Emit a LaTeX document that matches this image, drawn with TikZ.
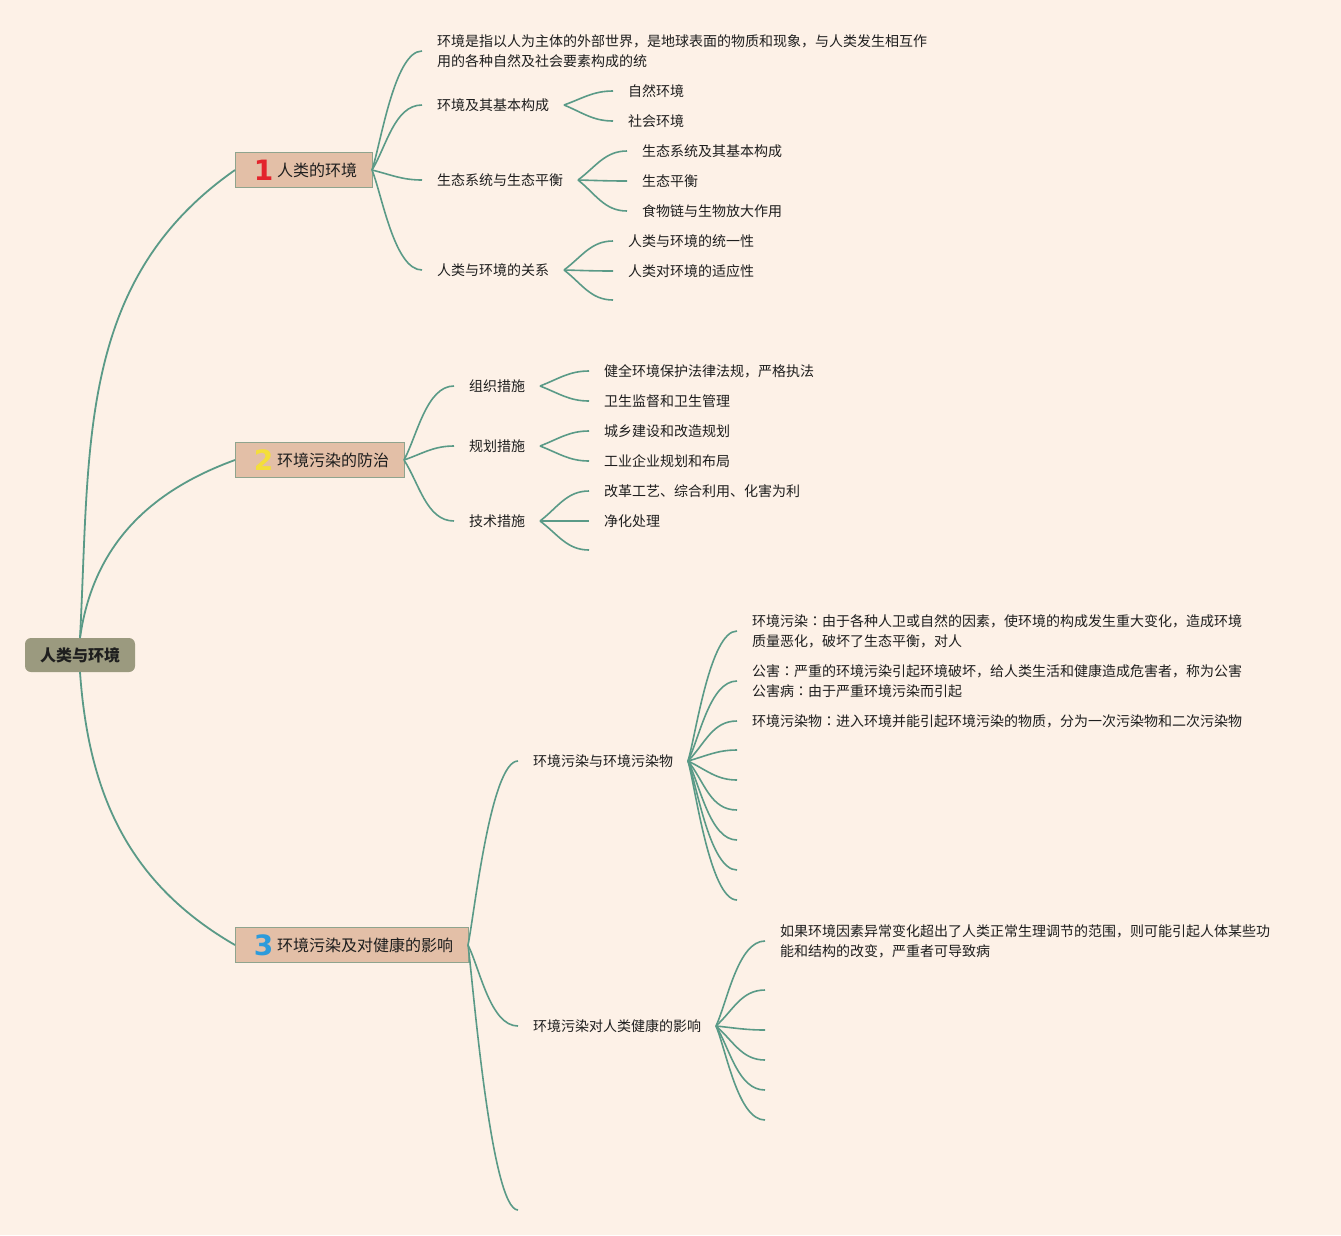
\documentclass[tikz,border=0pt]{standalone}
\usepackage{fontspec}
\setmainfont{Noto Sans CJK SC}
\newfontfamily\numfont{DejaVu Sans}
\newfontfamily\tcfont{Noto Sans CJK TC}
\usetikzlibrary{calc}
\definecolor{MapBg}{HTML}{FDF1E7}
\definecolor{MapLine}{HTML}{5A9A87}
\definecolor{MapTopic}{HTML}{E3BFA7}
\definecolor{MapEdge}{HTML}{8FA48E}
\definecolor{MapRoot}{HTML}{9B9A7F}
\definecolor{MapText}{HTML}{1E1E1E}
\definecolor{NumRed}{HTML}{E3242C}
\definecolor{NumYellow}{HTML}{F4DE3B}
\definecolor{NumBlue}{HTML}{2C9BDB}

\newcommand{\numtag}[2]{\makebox[27pt]{\raisebox{-4pt}[0pt][0pt]{\numfont\bfseries\fontsize{28}{28}\selectfont\color{#1}#2}}}
\newcommand{\colonmark}{{\tcfont ：}}

\tikzset{
  root/.style={fill=MapRoot,rounded corners=6pt,inner xsep=15pt,minimum height=34pt,
    outer sep=0pt,text=MapText,font=\fontsize{16}{20}\selectfont\bfseries},
  topic/.style={fill=MapTopic,draw=MapEdge,line width=0.8pt,anchor=west,inner xsep=15pt,
    minimum height=35pt,outer sep=0pt,text=MapText,font=\fontsize{16}{20}\selectfont},
  leaf/.style={anchor=west,inner xsep=15pt,outer sep=0pt,align=left,text=MapText,
    font=\fontsize{14}{20}\selectfont},
  trunk/.style={draw=MapLine,line width=1.8pt},
  twig/.style={draw=MapLine,line width=1.6pt}
}

\begin{document}
\begin{tikzpicture}[x=1pt,y=1pt]
    \fill[MapBg] (0,0) rectangle (1341,-1235);

    % root and main topics
    \node[root] (root) at (80,-655) {人类与环境};
    \node[topic] (t1) at (235,-170) {\numtag{NumRed}{1}人类的环境};
    \node[topic] (t2) at (235,-460) {\numtag{NumYellow}{2}环境污染的防治};
    \node[topic] (t3) at (235,-945) {\numtag{NumBlue}{3}环境污染及对健康的影响};

    \draw[trunk] (root.north) to[out=87,in=215] (t1.west);
    \draw[trunk] (root.north) to[out=82,in=200] (t2.west);
    \draw[trunk] (root.south) to[out=-86,in=150] (t3.west);

    % topic 1
    \node[leaf] (a1) at (422,-51) {环境是指以人为主体的外部世界，是地球表面的物质和现象，与人类发生相互作\\用的各种自然及社会要素构成的统};
    \node[leaf] (a2) at (422,-105) {环境及其基本构成};
    \node[leaf] (a3) at (422,-180) {生态系统与生态平衡};
    \node[leaf] (a4) at (422,-270) {人类与环境的关系};
    \node[leaf] (a21) at (613,-91) {自然环境};
    \node[leaf] (a22) at (613,-121) {社会环境};
    \node[leaf] (a31) at (627,-151) {生态系统及其基本构成};
    \node[leaf] (a32) at (627,-181) {生态平衡};
    \node[leaf] (a33) at (627,-211) {食物链与生物放大作用};
    \node[leaf] (a41) at (613,-241) {人类与环境的统一性};
    \node[leaf] (a42) at (613,-271) {人类对环境的适应性};
    \coordinate (a43) at (613,-300);

    % topic 2
    \node[leaf] (b1) at (454,-386) {组织措施};
    \node[leaf] (b2) at (454,-446) {规划措施};
    \node[leaf] (b3) at (454,-521) {技术措施};
    \node[leaf] (b11) at (589,-371) {健全环境保护法律法规，严格执法};
    \node[leaf] (b12) at (589,-401) {卫生监督和卫生管理};
    \node[leaf] (b21) at (589,-431) {城乡建设和改造规划};
    \node[leaf] (b22) at (589,-461) {工业企业规划和布局};
    \node[leaf] (b31) at (589,-491) {改革工艺、综合利用、化害为利};
    \node[leaf] (b32) at (589,-521) {净化处理};
    \coordinate (b33) at (589,-550);

    % topic 3
    \node[leaf] (c1) at (518,-761) {环境污染与环境污染物};
    \node[leaf] (c2) at (518,-1026) {环境污染对人类健康的影响};
    \coordinate (c3) at (518,-1210);
    \node[leaf] (c11) at (737,-631) {环境污染\colonmark 由于各种人卫或自然的因素，使环境的构成发生重大变化，造成环境\\质量恶化，破坏了生态平衡，对人};
    \node[leaf] (c12) at (737,-681) {公害\colonmark 严重的环境污染引起环境破坏，给人类生活和健康造成危害者，称为公害\\公害病\colonmark 由于严重环境污染而引起};
    \node[leaf] (c13) at (737,-721) {环境污染物\colonmark 进入环境并能引起环境污染的物质，分为一次污染物和二次污染物};
    \foreach \k/\y in {4/750,5/780,6/810,7/840,8/870,9/900}
      \coordinate (c1\k) at (737,-\y);
    \node[leaf] (c21) at (765,-941) {如果环境因素异常变化超出了人类正常生理调节的范围，则可能引起人体某些功\\能和结构的改变，严重者可导致病};
    \foreach \k/\y in {2/990,3/1030,4/1060,5/1090,6/1120}
      \coordinate (c2\k) at (765,-\y);

    % branches
    \foreach \src/\kids in {t1/{a1.west,a2.west,a3.west,a4.west},
                        t2/{b1.west,b2.west,b3.west},
                        t3/{c1.west,c2.west,c3},
                        a2/{a21.west,a22.west},
                        a3/{a31.west,a32.west,a33.west},
                        a4/{a41.west,a42.west,a43},
                        b1/{b11.west,b12.west},
                        b2/{b21.west,b22.west},
                        b3/{b31.west,b32.west,b33},
                        c1/{c11.west,c12.west,c13.west,c14,c15,c16,c17,c18,c19},
                        c2/{c21.west,c22,c23,c24,c25,c26}}
      \foreach \kid in \kids
        \draw[twig] let \p1=(\src.east), \p2=(\kid),
            \n1={atan2(\y2-\y1,0.8*(\x2-\x1))},
            \n2={min(0.39*veclen(\x2-\x1,\y2-\y1),0.55*(\x2-\x1))}
          in (\p1) to[out=\n1,in=180,out distance=\n2,in distance=\n2] (\p2);
  \end{tikzpicture}
\end{document}
